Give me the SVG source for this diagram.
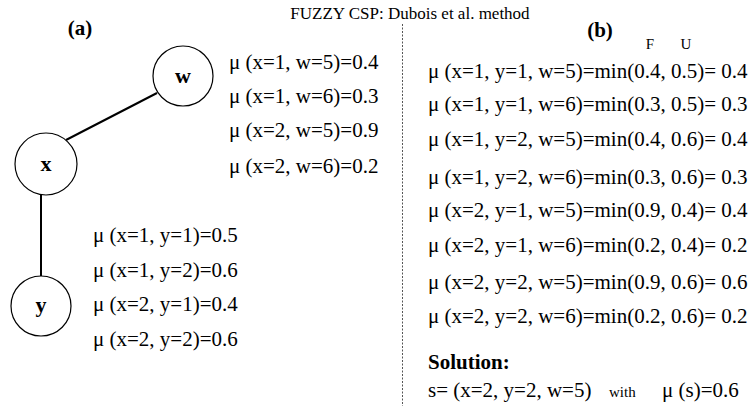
<svg xmlns="http://www.w3.org/2000/svg" width="756" height="406" viewBox="0 0 756 406">
<style>
text{font-family:"Liberation Serif","Times New Roman",serif;fill:#000}
.t{font-size:21px}
.b{font-size:21px;font-weight:bold}
.n{font-size:22px;font-weight:bold}
.s{font-size:15px}
.node{fill:#fff;stroke:#000;stroke-width:1.2}
.edge{stroke:#000;stroke-width:2;fill:none}
</style>
<rect width="756" height="406" fill="#fff"/>
<text x="410" y="19" text-anchor="middle" style="font-size:17px">FUZZY CSP: Dubois et al. method</text>
<line x1="402.5" y1="24" x2="402.5" y2="406" stroke="#555" stroke-width="1" stroke-dasharray="2,1.5"/>
<text class="b" x="80" y="35" text-anchor="middle">(a)</text>
<text class="b" x="600" y="37" text-anchor="middle">(b)</text>
<g id="connectors">
<line class="edge" x1="66" y1="140" x2="157" y2="93"/>
<line class="edge" x1="41" y1="195" x2="41" y2="276"/>
</g>
<g id="node-w"><circle class="node" cx="183" cy="76" r="30"/><text class="n" x="183" y="83" text-anchor="middle">w</text></g>
<g id="node-x"><circle class="node" cx="46" cy="164" r="31"/><text class="n" x="46" y="171" text-anchor="middle">x</text></g>
<g id="node-y"><circle class="node" cx="41" cy="306" r="30"/><text class="n" x="41" y="312" text-anchor="middle">y</text></g>
<g id="labels-xw">
<text class="t" x="229" y="69">μ (x=1, w=5)=0.4</text>
<text class="t" x="229" y="103">μ (x=1, w=6)=0.3</text>
<text class="t" x="229" y="137">μ (x=2, w=5)=0.9</text>
<text class="t" x="229" y="173">μ (x=2, w=6)=0.2</text>
</g>
<g id="labels-xy">
<text class="t" x="93" y="242">μ (x=1, y=1)=0.5</text>
<text class="t" x="93" y="277">μ (x=1, y=2)=0.6</text>
<text class="t" x="93" y="311">μ (x=2, y=1)=0.4</text>
<text class="t" x="93" y="346">μ (x=2, y=2)=0.6</text>
</g>
<text class="s" x="650" y="49" text-anchor="middle">F</text>
<text class="s" x="686" y="49" text-anchor="middle">U</text>
<g id="labels-b">
<text class="t" x="428" y="78">μ (x=1, y=1, w=5)=min(0.4, 0.5)= 0.4</text>
<text class="t" x="428" y="111">μ (x=1, y=1, w=6)=min(0.3, 0.5)= 0.3</text>
<text class="t" x="428" y="146">μ (x=1, y=2, w=5)=min(0.4, 0.6)= 0.4</text>
<text class="t" x="428" y="184">μ (x=1, y=2, w=6)=min(0.3, 0.6)= 0.3</text>
<text class="t" x="428" y="217">μ (x=2, y=1, w=5)=min(0.9, 0.4)= 0.4</text>
<text class="t" x="428" y="252">μ (x=2, y=1, w=6)=min(0.2, 0.4)= 0.2</text>
<text class="t" x="428" y="289">μ (x=2, y=2, w=5)=min(0.9, 0.6)= 0.6</text>
<text class="t" x="428" y="323">μ (x=2, y=2, w=6)=min(0.2, 0.6)= 0.2</text>
</g>
<g id="solution">
<text class="b" x="428" y="369">Solution:</text>
<text class="t" x="428" y="397">s= (x=2, y=2, w=5)</text>
<text class="s" x="609" y="397">with</text>
<text class="t" x="662" y="397">μ (s)=0.6</text>
</g>
</svg>
